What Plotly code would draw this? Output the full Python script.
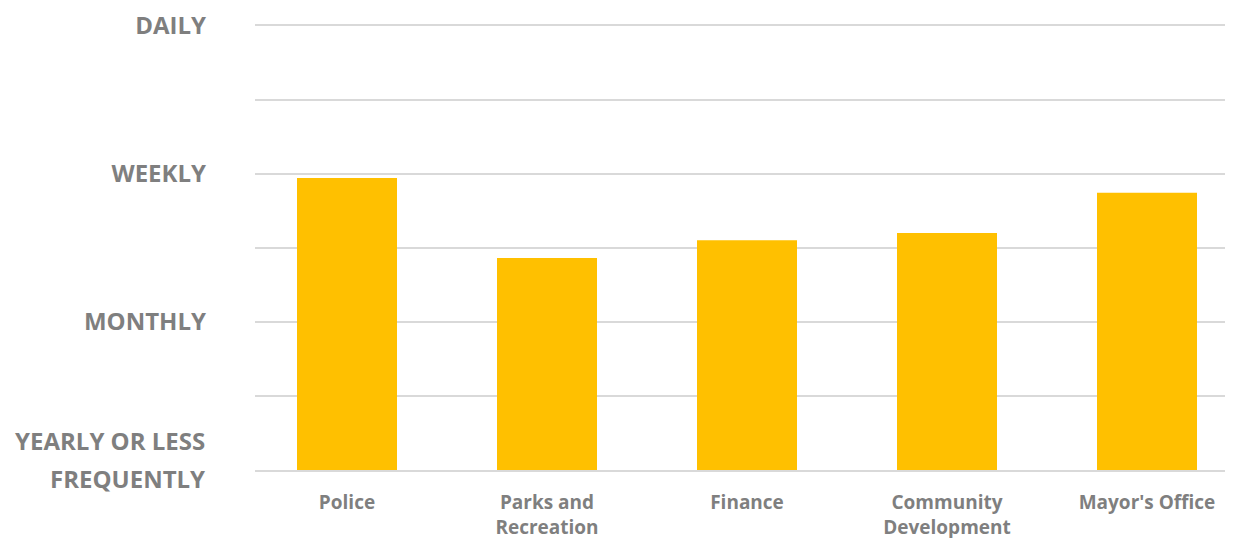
import plotly.graph_objects as go

departments = ["Police", "Parks and<br>Recreation", "Finance", "Community<br>Development", "Mayor's Office"]
frequency_scores = [1.97, 1.43, 1.55, 1.60, 1.87]
tick_values = [0, 1, 2, 3]
tick_labels = ["", "MONTHLY", "WEEKLY", "DAILY"]
bottom_label_lines = ["YEARLY OR LESS", "FREQUENTLY"]

fig = go.Figure(go.Bar(
    x=list(range(len(departments))),
    y=frequency_scores,
    marker=dict(color="#FFC000", line=dict(width=0)),
    width=0.5,
))

fig.update_layout(
    width=1217, height=530,
    margin=dict(l=247, r=0, t=10, b=68, autoexpand=False),
    plot_bgcolor="white", paper_bgcolor="white",
    showlegend=False,
    font=dict(family="Open Sans", color="#7f7f7f"),
)
fig.update_yaxes(
    range=[0, 3.05],
    tickvals=tick_values, ticktext=tick_labels,
    tickfont=dict(size=24, family="Open Sans", weight="bold", color="#7f7f7f"),
    showgrid=True, gridcolor="#d9d9d9", gridwidth=2,
    minor=dict(dtick=0.5, showgrid=True, gridcolor="#d9d9d9", gridwidth=2),
    ticklabelstandoff=48, ticklabeloverflow="allow",
    zeroline=False, showline=False, automargin=False,
)
fig.update_xaxes(
    range=[-0.46, 4.39],
    tickvals=list(range(len(departments))), ticktext=departments,
    tickfont=dict(size=19, family="Open Sans", weight="bold", color="#7f7f7f"),
    showline=True, linecolor="#d9d9d9", linewidth=2,
    showgrid=False, zeroline=False,
    ticklabelstandoff=14, ticklabeloverflow="allow", automargin=False,
)
for txt, shift in zip(bottom_label_lines, [30, -8]):
    fig.add_annotation(
        text=txt, xref="paper", yref="y", x=0, y=tick_values[0],
        xanchor="right", yanchor="middle", xshift=-48, yshift=shift,
        showarrow=False,
        font=dict(size=24, family="Open Sans", weight="bold", color="#7f7f7f"),
    )
fig.write_html("out.html")
